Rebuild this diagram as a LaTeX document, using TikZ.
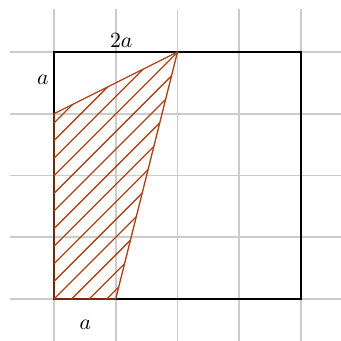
\documentclass[tikz,border=0pt]{standalone}
\begin{document}
\begin{tikzpicture}[x=1cm,y=1cm,
  gridline/.style={line width=0.8pt, gray!40},
  squareline/.style={line width=0.8pt, black},
  shade/.style={line width=0.6pt, hatchcol},
  lbl/.style={inner sep=0pt}]
\definecolor{hatchcol}{RGB}{172,66,24}
\useasboundingbox (-0.874,-0.664) rectangle (4.648,4.842);
% grid
\foreach \i in {0,...,4} {
  \draw[gridline] (\i,-0.7) -- (\i,4.7);
  \draw[gridline] (-0.71,\i) -- (4.7,\i);
}
% square
\draw[squareline] (0,0) rectangle (4,4);
% hatching
\begin{scope}
  \clip (0,0) -- (1,0) -- (2,4) -- (0,3) -- cycle;
  \foreach \k in {-16,...,16} {
    \draw[shade] (0,{\k*0.285}) -- (5,{5+\k*0.285});
  }
\end{scope}
\draw[shade] (0,0) -- (1,0) -- (2,4) -- (0,3) -- cycle;
% labels
\node[lbl, anchor=base] (twoa) at (1.09,4.07) {$2a$};
\node[lbl] (lefta) at (-0.18,3.55) {$a$};
\node[lbl] (bota) at (0.51,-0.42) {$a$};
\end{tikzpicture}
\end{document}
